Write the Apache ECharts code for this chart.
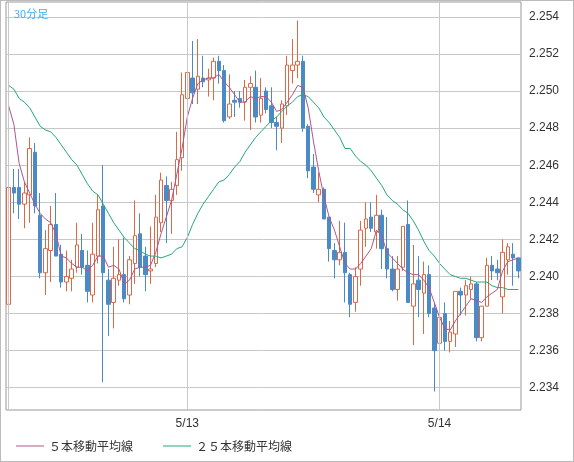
<!DOCTYPE html>
<html>
<head>
<meta charset="utf-8">
<script src="https://cdn.jsdelivr.net/npm/echarts@6/dist/echarts.min.js"></script>
<style>
html,body{margin:0;padding:0;background:#fff;}
#main{width:572px;height:460px;border:1px solid #bbb;}
</style>
</head>
<body>
<div id="main"></div>
<script>
// 30分足 ローソク足 [open, close, low, high]
var opens  = [2.2385,2.2448,2.2448,2.2439,2.2444,2.2467,2.2433,2.2402,2.2414,2.2428,2.2412,2.2397,2.2399,2.2405,2.2414,2.2406,2.2390,2.2411,2.2438,2.2398,2.2386,2.2398,2.2401,2.2390,2.2407,2.2423,2.2411,2.2403,2.2407,2.2429,2.2449,2.2441,2.2449,
              2.2464,2.2496,2.2507,2.2501,2.2507,2.2506,2.2507,2.2516,2.2511,2.2486,2.2495,2.2496,2.2494,2.2502,2.2502,2.2487,2.2500,2.2492,2.2483,2.2480,2.2492,2.2511,2.2514,2.2516,2.2481,2.2459,2.2444,2.2447,2.2432,2.2414,2.2409,2.2413,
              2.2401,2.2386,2.2404,2.2426,2.2432,2.2424,2.2433,2.2415,2.2404,2.2393,2.2405,2.2428,2.2384,2.2398,2.2391,2.2401,2.2383,2.2364,2.2380,2.2365,2.2369,2.2392,2.2390,2.2393,2.2396,2.2367,2.2384,2.2406,2.2404,2.2389,2.2409,2.2412,2.2410];
var closes = [2.2448,2.2445,2.2439,2.2445,2.2469,2.2438,2.2402,2.2415,2.2428,2.2411,2.2397,2.2400,2.2404,2.2417,2.2405,2.2392,2.2412,2.2436,2.2402,2.2385,2.2399,2.2401,2.2388,2.2409,2.2422,2.2405,2.2401,2.2404,2.2432,2.2452,2.2441,2.2447,2.2463,
              2.2498,2.2510,2.2499,2.2508,2.2505,2.2507,2.2516,2.2511,2.2484,2.2493,2.2494,2.2494,2.2502,2.2504,2.2486,2.2496,2.2490,2.2483,2.2481,2.2493,2.2514,2.2514,2.2516,2.2480,2.2457,2.2447,2.2447,2.2431,2.2415,2.2409,2.2413,2.2402,
              2.2385,2.2400,2.2425,2.2431,2.2426,2.2433,2.2415,2.2404,2.2393,2.2404,2.2427,2.2386,2.2396,2.2393,2.2401,2.2380,2.2360,2.2378,2.2365,2.2370,2.2392,2.2390,2.2395,2.2396,2.2367,2.2384,2.2406,2.2403,2.2402,2.2413,2.2416,2.2410,2.2403];
var lows   = [2.2377,2.2434,2.2431,2.2426,2.2429,2.2434,2.2399,2.2390,2.2397,2.2411,2.2394,2.2392,2.2392,2.2402,2.2401,2.2386,2.2386,2.2407,2.2343,2.2368,2.2372,2.2395,2.2386,2.2385,2.2396,2.2400,2.2392,2.2396,2.2405,2.2424,2.2418,2.2423,2.2444,
              2.2457,2.2491,2.2493,2.2493,2.2502,2.2497,2.2495,2.2504,2.2483,2.2485,2.2486,2.2491,2.2484,2.2479,2.2483,2.2483,2.2488,2.2480,2.2468,2.2472,2.2487,2.2504,2.2507,2.2478,2.2453,2.2445,2.2440,2.2431,2.2408,2.2399,2.2406,2.2386,
              2.2378,2.2381,2.2395,2.2416,2.2424,2.2415,2.2404,2.2399,2.2392,2.2387,2.2403,2.2386,2.2363,2.2378,2.2369,2.2378,2.2338,2.2355,2.2360,2.2359,2.2362,2.2379,2.2379,2.2388,2.2365,2.2365,2.2384,2.2398,2.2398,2.2380,2.2401,2.2395,2.2399];
var highs  = [2.2461,2.2458,2.2458,2.2451,2.2475,2.2472,2.2445,2.2425,2.2438,2.2445,2.2417,2.2414,2.2409,2.2429,2.2423,2.2414,2.2429,2.2444,2.2460,2.2404,2.2416,2.2420,2.2421,2.2411,2.2441,2.2434,2.2416,2.2427,2.2444,2.2456,2.2454,2.2451,2.2478,
              2.2510,2.2531,2.2527,2.2528,2.2519,2.2512,2.2518,2.2519,2.2514,2.2509,2.2500,2.2500,2.2506,2.2508,2.2511,2.2507,2.2502,2.2502,2.2486,2.2495,2.2519,2.2528,2.2538,2.2519,2.2482,2.2466,2.2456,2.2448,2.2432,2.2418,2.2430,2.2429,
              2.2402,2.2405,2.2430,2.2440,2.2440,2.2444,2.2436,2.2432,2.2411,2.2411,2.2427,2.2441,2.2417,2.2411,2.2408,2.2406,2.2386,2.2382,2.2386,2.2376,2.2392,2.2394,2.2398,2.2400,2.2397,2.2384,2.2410,2.2411,2.2409,2.2420,2.2418,2.2418,2.2410];
// 移動平均線 (チャートから読み取り)
var ma5  = [2.2492,2.2482,2.2461,2.2451,2.2445,2.2439,2.2434,2.2431,2.2429,2.2423,2.2411,2.2410,2.2407,2.2405,2.2405,2.2403,2.2406,2.2411,2.2411,2.2405,2.2406,2.2404,2.2396,2.2398,2.2404,2.2405,2.2405,2.2406,2.2413,2.2423,2.2432,2.2441,2.2455,
            2.2469,2.2486,2.2496,2.2504,2.2506,2.2507,2.2507,2.2509,2.2505,2.2502,2.2498,2.2494,2.2494,2.2497,2.2496,2.2497,2.2497,2.2494,2.2489,2.2490,2.2494,2.2498,2.2503,2.2502,2.2491,2.2473,2.2457,2.2443,2.2432,2.2425,2.2416,2.2407,
            2.2404,2.2404,2.2407,2.2411,2.2415,2.2425,2.2422,2.2413,2.2410,2.2407,2.2404,2.2402,2.2401,2.2401,2.2398,2.2394,2.2386,2.2378,2.2372,2.2371,2.2376,2.2380,2.2384,2.2388,2.2387,2.2386,2.2389,2.2391,2.2393,2.2403,2.2408,2.2409,2.2410];
var ma25 = [2.2503,2.2501,2.2496,2.2494,2.2491,2.2486,2.2481,2.2479,2.2478,2.2475,2.2471,2.2467,2.2463,2.2460,2.2455,2.2450,2.2446,2.2444,2.2439,2.2434,2.2429,2.2425,2.2421,2.2418,2.2415,2.2414,2.2412,2.2411,2.2411,2.2410,2.2411,2.2412,2.2415,
            2.2416,2.2421,2.2428,2.2434,2.2439,2.2443,2.2447,2.2451,2.2452,2.2455,2.2459,2.2462,2.2467,2.2471,2.2475,2.2478,2.2481,2.2484,2.2486,2.2489,2.2492,2.2494,2.2497,2.2498,2.2497,2.2494,2.2491,2.2486,2.2483,2.2479,2.2475,2.2469,
            2.2469,2.2465,2.2462,2.2460,2.2457,2.2453,2.2449,2.2444,2.2441,2.2439,2.2436,2.2434,2.2430,2.2425,2.2419,2.2414,2.2411,2.2407,2.2404,2.2401,2.2400,2.2399,2.2399,2.2398,2.2397,2.2397,2.2397,2.2395,2.2394,2.2394,2.2393,2.2393,2.2393];
var dayLabels = {0: '', 34: '5/13', 82: '5/14'};
var yTicks = [2.234,2.236,2.238,2.240,2.242,2.244,2.246,2.248,2.250,2.252,2.254];

var cats = [];
var kData = [];
for (var i = 0; i < opens.length; i++) {
    cats.push(dayLabels[i] !== undefined ? dayLabels[i] : String(i));
    kData.push([opens[i], closes[i], lows[i], highs[i]]);
}

var chart = echarts.init(document.getElementById('main'));
chart.setOption({
    animation: false,
    backgroundColor: '#fff',
    title: {
        text: '30分足', left: 8, top: 2,
        textStyle: {fontSize: 11, fontWeight: 'normal', color: '#3cb0ea', fontFamily: 'Noto Sans CJK JP'}
    },
    legend: {
        left: 10, bottom: 4, itemWidth: 28, itemHeight: 1, itemGap: 30,
        icon: 'rect',
        textStyle: {fontSize: 12, color: '#333', fontFamily: 'Noto Sans CJK JP'},
        data: ['５本移動平均線', '２５本移動平均線']
    },
    grid: {left: 5, right: 52, top: 1, bottom: 51, show: true, borderColor: '#999', borderWidth: 1},
    xAxis: {
        type: 'category', data: cats, boundaryGap: true,
        axisTick: {show: false},
        axisLine: {show: false},
        axisLabel: {
            interval: function (idx) { return idx === 34 || idx === 82; },
            color: '#333', fontSize: 12, margin: 8
        },
        splitLine: {show: false}
    },
    yAxis: {
        type: 'value', position: 'right', scale: true,
        min: 2.2328, max: 2.2548,
        axisLine: {show: false},
        axisTick: {show: false, customValues: yTicks},
        axisLabel: {customValues: yTicks, color: '#333', fontSize: 12, margin: 8,
            formatter: function (v) { return v.toFixed(3); }},
        splitLine: {show: true, lineStyle: {color: '#c8c8c8'}}
    },
    series: [{
        name: 'ローソク足', type: 'candlestick', data: kData, barWidth: 4,
        itemStyle: {color: '#fff', color0: '#4a8ac6', borderColor: '#dc6845', borderColor0: '#4a8ac6', borderWidth: 1},
        markLine: {
            silent: true, symbol: ['none', 'none'], label: {show: false},
            lineStyle: {color: '#c8c8c8', type: 'solid', width: 1},
            data: [{xAxis: 0}, {xAxis: 34}, {xAxis: 82}]
        }
    }, {
        name: '５本移動平均線', type: 'line', data: ma5, showSymbol: false,
        lineStyle: {color: '#b0558a', width: 1}, itemStyle: {color: '#b0558a'}
    }, {
        name: '２５本移動平均線', type: 'line', data: ma25, showSymbol: false,
        lineStyle: {color: '#22a878', width: 1}, itemStyle: {color: '#22a878'}
    }]
});
</script>
</body>
</html>
